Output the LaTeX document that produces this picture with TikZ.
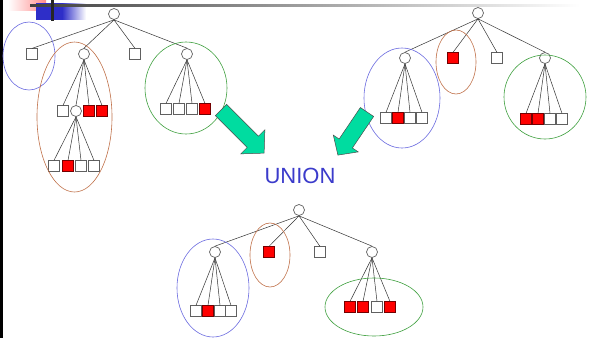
\documentclass[tikz,border=0pt]{standalone}
\usepackage{fontspec}
\newfontfamily\arialfont{Liberation Sans}
\definecolor{ublue}{HTML}{3B3BCB}
\definecolor{eblue}{HTML}{6A6AE0}
\definecolor{ebrown}{HTML}{C07048}
\definecolor{egreen}{HTML}{3FA03F}
\definecolor{arrowc}{HTML}{00DCA0}
\definecolor{tblue}{HTML}{2E2EC8}
\begin{document}
\begin{tikzpicture}[x=1pt,y=-1pt,
  leaf/.style={draw=gray!75!black,line width=0.7pt,fill=white,minimum size=10.5pt,inner sep=0pt},
  redleaf/.style={leaf,fill=red,draw=red!45!black},
  inner/.style={circle,draw=gray!75!black,line width=0.7pt,fill=white,minimum size=11pt,inner sep=0pt},
  edge/.style={draw=black!80,line width=0.5pt},
  blueell/.style={draw=eblue,line width=0.6pt},
  brownell/.style={draw=ebrown,line width=0.6pt},
  greenell/.style={draw=egreen,line width=0.6pt},
  fatarrow/.style={fill=arrowc,draw=black!70,line width=0.5pt,line join=miter}]
\useasboundingbox (0,0) rectangle (606,338);
\fill[white] (0,0) rectangle (606,338);
% slide decoration
\shade[left color=white,right color=red!45] (8,0) rectangle (46,10);
\shade[left color=tblue,right color=tblue] (36,3) rectangle (62,19);
\shade[left color=tblue,right color=white] (62,3) rectangle (86,19);
\shade[left color=black!75,right color=white] (30,4) rectangle (580,6);
\fill[black!85] (51,0) rectangle (53.5,21);
\fill[black] (0,0) rectangle (2.5,338);

% ---------- tree 1 ----------
\node[inner] (r1) at (114,14) {};
\node[leaf] (a1) at (32,54) {};
\node[inner] (a2) at (84,54) {};
\node[leaf] (a3) at (135,54) {};
\node[inner] (a4) at (187,54) {};
\foreach \c in {a1,a2,a3,a4} \draw[edge] (r1.south) -- (\c.north);
\node[leaf] (b1) at (63,111) {};
\node[inner] (b2) at (76,111) {};
\node[redleaf] (b3) at (89,111) {};
\node[redleaf] (b4) at (102,111) {};
\foreach \c in {b1,b2,b3,b4} \draw[edge] (a2.south) -- (\c.north);
\node[leaf] (c1) at (54,166) {};
\node[redleaf] (c2) at (68,166) {};
\node[leaf] (c3) at (81,166) {};
\node[leaf] (c4) at (94,166) {};
\foreach \c in {c1,c2,c3,c4} \draw[edge] (b2.south) -- (\c.north);
\node[leaf] (d1) at (166,109) {};
\node[leaf] (d2) at (179,109) {};
\node[leaf] (d3) at (192,109) {};
\node[redleaf] (d4) at (205,109) {};
\foreach \c in {d1,d2,d3,d4} \draw[edge] (a4.south) -- (\c.north);
\draw[blueell] (29,56) ellipse [x radius=26, y radius=34];
\draw[brownell] (74.5,117) ellipse [x radius=37.5, y radius=75];
\draw[greenell] (186,88) ellipse [x radius=41, y radius=46];

% ---------- tree 2 ----------
\node[inner] (r2) at (478,13) {};
\node[inner] (e1) at (405,58) {};
\node[redleaf] (e2) at (453,58) {};
\node[leaf] (e3) at (497,58) {};
\node[inner] (e4) at (545,58) {};
\foreach \c in {e1,e2,e3,e4} \draw[edge] (r2.south) -- (\c.north);
\node[leaf] (f1) at (386,118) {};
\node[redleaf] (f2) at (398,118) {};
\node[leaf] (f3) at (410,118) {};
\node[leaf] (f4) at (422,118) {};
\foreach \c in {f1,f2,f3,f4} \draw[edge] (e1.south) -- (\c.north);
\node[redleaf] (g1) at (526,119) {};
\node[redleaf] (g2) at (538,119) {};
\node[leaf] (g3) at (550,119) {};
\node[leaf] (g4) at (562,119) {};
\foreach \c in {g1,g2,g3,g4} \draw[edge] (e4.south) -- (\c.north);
\draw[blueell] (402,98) ellipse [x radius=38, y radius=50];
\draw[brownell] (456,62) ellipse [x radius=20, y radius=32];
\draw[greenell] (545,97) ellipse [x radius=41, y radius=42];

% ---------- arrows ----------
\draw[fatarrow, shift={(221,110)}, rotate=-45]
  (0,8) -- (45,8) -- (45,17) -- (61,0) -- (45,-17) -- (45,-8) -- (0,-8) -- cycle;
\draw[fatarrow, shift={(367,112)}, rotate=-124]
  (0,8) -- (38,8) -- (38,15) -- (52,0) -- (38,-15) -- (38,-8) -- (0,-8) -- cycle;

\node[text=ublue,font=\arialfont\fontsize{22}{26}\selectfont,inner sep=0pt] (union) at (300,176) {UNION};

% ---------- tree 3 ----------
\node[inner] (r3) at (299,210) {};
\node[inner] (h1) at (215,252) {};
\node[redleaf] (h2) at (269,252) {};
\node[leaf] (h3) at (320,252) {};
\node[inner] (h4) at (372,252) {};
\foreach \c in {h1,h2,h3,h4} \draw[edge] (r3.south) -- (\c.north);
\node[leaf] (i1) at (196,311) {};
\node[redleaf] (i2) at (208,311) {};
\node[leaf] (i3) at (220,311) {};
\node[leaf] (i4) at (231,311) {};
\foreach \c in {i1,i2,i3,i4} \draw[edge] (h1.south) -- (\c.north);
\node[redleaf] (j1) at (350,307) {};
\node[redleaf] (j2) at (363,307) {};
\node[leaf] (j3) at (377,307) {};
\node[redleaf] (j4) at (390,307) {};
\foreach \c in {j1,j2,j3,j4} \draw[edge] (h4.south) -- (\c.north);
\draw[blueell] (213,288) ellipse [x radius=36, y radius=49];
\draw[brownell] (270,255) ellipse [x radius=20, y radius=32];
\draw[greenell] (374,307) ellipse [x radius=49, y radius=29];
\end{tikzpicture}
\end{document}
